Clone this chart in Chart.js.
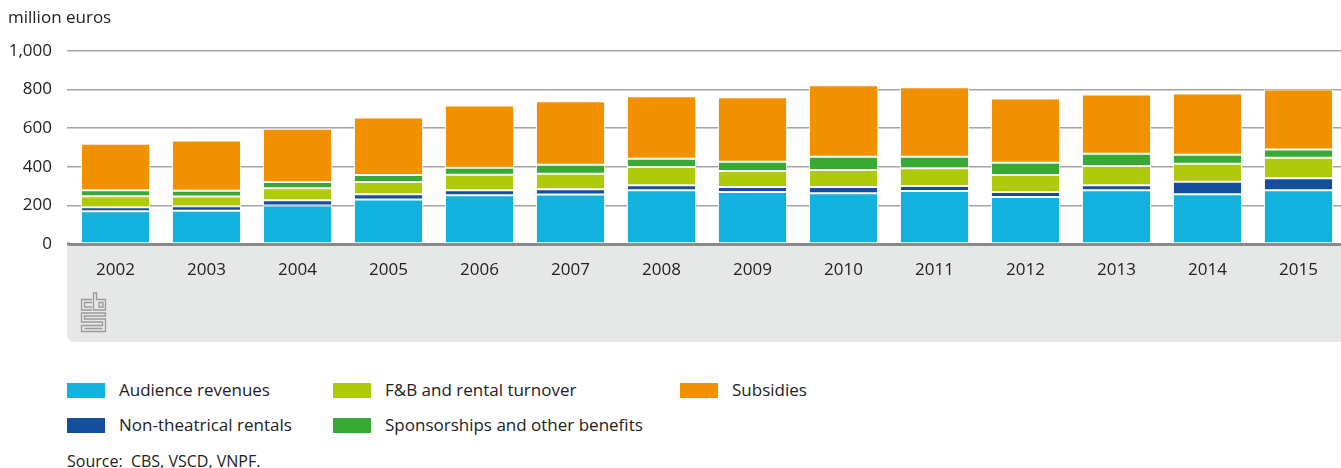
<!DOCTYPE html>
<html>
<head>
<meta charset="utf-8">
<script src="https://cdn.jsdelivr.net/npm/chart.js@4/dist/chart.umd.min.js"></script>
<style>
    body { margin: 0; background: #fff; font-family: "Open Sans", sans-serif; color: #222; }
    #wrap { position: relative; width: 1341px; height: 468px; overflow: hidden; }
    #unit { position: absolute; left: 8px; top: 5px; font-size: 17px; }
    #chartBox { position: absolute; left: 0; top: 0; width: 1344px; height: 345px; }
    .leg { position: absolute; font-size: 17px; line-height: 20px; }
    .sw { position: absolute; width: 38px; height: 15px; }
    #source { position: absolute; left: 67px; top: 450px; font-size: 16px; }
</style>
</head>
<body>
<div id="wrap">
    <div id="chartBox"><canvas id="barChart" width="1344" height="345"></canvas></div>
    <div id="unit">million euros</div>
    <div id="legend"></div>
    <div id="source">Source:&nbsp; CBS, VSCD, VNPF.</div>
</div>
<script>
const years = ['2002', '2003', '2004', '2005', '2006', '2007', '2008', '2009', '2010', '2011', '2012', '2013', '2014', '2015'];
const audienceRevenues = [170, 172, 200, 230, 253, 256, 279, 269, 263, 274, 243, 279, 258, 279];
const nonTheatricalRentals = [21, 24, 27, 28, 26, 28, 26, 26, 32, 26, 26, 26, 64, 62];
const fbRentalTurnover = [57, 50, 62, 63, 80, 80, 94, 83, 88, 93, 88, 99, 94, 106];
const sponsorships = [31, 30, 32, 36, 36, 47, 43, 48, 69, 59, 64, 64, 47, 42];
const subsidies = [241, 260, 276, 299, 323, 328, 323, 334, 370, 360, 333, 307, 317, 312];
const yTicks = [0, 200, 400, 600, 800, 1000];

const series = [
    { label: 'Audience revenues', data: audienceRevenues, color: '#13b1dd', col: 0, row: 0 },
    { label: 'Non-theatrical rentals', data: nonTheatricalRentals, color: '#134f9c', col: 0, row: 1 },
    { label: 'F&B and rental turnover', data: fbRentalTurnover, color: '#afca0b', col: 1, row: 0 },
    { label: 'Sponsorships and other benefits', data: sponsorships, color: '#39a935', col: 1, row: 1 },
    { label: 'Subsidies', data: subsidies, color: '#f29100', col: 2, row: 0 }
];

// grey box under the x axis plus the cbs logo
const axisBox = {
    id: 'axisBox',
    beforeDraw(chart) {
        const c = chart.ctx;
        const a = chart.chartArea;
        const left = 67, bottom = 342, r = 8;
        c.save();
        c.fillStyle = '#e6e7e7';
        c.beginPath();
        c.moveTo(left, a.bottom);
        c.lineTo(a.right, a.bottom);
        c.lineTo(a.right, bottom);
        c.lineTo(left + r, bottom);
        c.quadraticCurveTo(left, bottom, left, bottom - r);
        c.closePath();
        c.fill();

        c.strokeStyle = '#9a9a9a';
        c.lineWidth = 1.3;
        c.beginPath();
        // c
        c.moveTo(92, 299.5); c.lineTo(81.5, 299.5); c.lineTo(81.5, 310); c.lineTo(92, 310);
        c.moveTo(92, 302.5); c.lineTo(84.5, 302.5); c.lineTo(84.5, 307); c.lineTo(92, 307);
        // b
        c.moveTo(93.5, 293); c.lineTo(93.5, 310); c.lineTo(105.5, 310); c.lineTo(105.5, 299.5); c.lineTo(96.5, 299.5); c.lineTo(96.5, 293); c.closePath();
        c.rect(99, 302.5, 4, 4.5);
        // s
        c.moveTo(105.5, 313); c.lineTo(81.5, 313); c.lineTo(81.5, 322); c.lineTo(102.5, 322); c.lineTo(102.5, 325.5); c.lineTo(81.5, 325.5); c.lineTo(81.5, 331.5); c.lineTo(105.5, 331.5); c.lineTo(105.5, 319); c.lineTo(84.5, 319); c.lineTo(84.5, 316); c.lineTo(105.5, 316); c.closePath();
        c.moveTo(84.5, 328.5); c.lineTo(102.5, 328.5);
        c.stroke();
        c.restore();
    },
    afterDraw(chart) {
        // axis line also starts at the box edge
        const c = chart.ctx;
        const a = chart.chartArea;
        c.save();
        c.fillStyle = '#8a8a8a';
        c.fillRect(67, a.bottom - 1.5, a.left - 67, 3);
        c.restore();
    }
};

const ctx = document.getElementById('barChart').getContext('2d');

const barChart = new Chart(ctx, {
    type: 'bar',
    data: {
        labels: years,
        datasets: series.map(s => ({
            label: s.label,
            data: s.data,
            backgroundColor: s.color,
            borderColor: '#ffffff',
            borderWidth: 1,
            borderSkipped: false,
            barPercentage: 0.76,
            categoryPercentage: 1
        }))
    },
    options: {
        responsive: false,
        animation: false,
        layout: { padding: { top: 51, left: 3, right: 0, bottom: 0 } },
        plugins: {
            legend: { display: false },
            tooltip: { enabled: false }
        },
        scales: {
            x: {
                stacked: true,
                grid: { display: false, drawTicks: false },
                border: { display: true, color: '#8a8a8a', width: 3 },
                ticks: {
                    color: '#222',
                    padding: 16,
                    font: { family: 'Open Sans', size: 17 },
                    maxRotation: 0
                },
                afterFit(s) { s.height = 101; }
            },
            y: {
                stacked: true,
                min: 0,
                max: 1000,
                afterBuildTicks(s) { s.ticks = yTicks.map(v => ({ value: v })); },
                grid: { color: '#a3a3a3', lineWidth: 1.5, drawTicks: true, tickLength: 3 },
                border: { display: false },
                ticks: {
                    color: '#222',
                    padding: 15,
                    font: { family: 'Open Sans', size: 17 },
                    callback: v => v.toLocaleString('en-US')
                },
                afterFit(s) { s.width = 67; }
            }
        }
    },
    plugins: [axisBox]
});

// legend in a grid, built from the datasets
const legend = document.getElementById('legend');
const colX = [67, 333, 680];
const rowY = [383, 418];
series.forEach(s => {
    const sw = document.createElement('div');
    sw.className = 'sw';
    sw.style.background = s.color;
    sw.style.left = colX[s.col] + 'px';
    sw.style.top = rowY[s.row] + 'px';
    legend.appendChild(sw);

    const txt = document.createElement('div');
    txt.className = 'leg';
    txt.textContent = s.label;
    txt.style.left = (colX[s.col] + 52) + 'px';
    txt.style.top = (rowY[s.row] - 3) + 'px';
    legend.appendChild(txt);
});
</script>
</body>
</html>
